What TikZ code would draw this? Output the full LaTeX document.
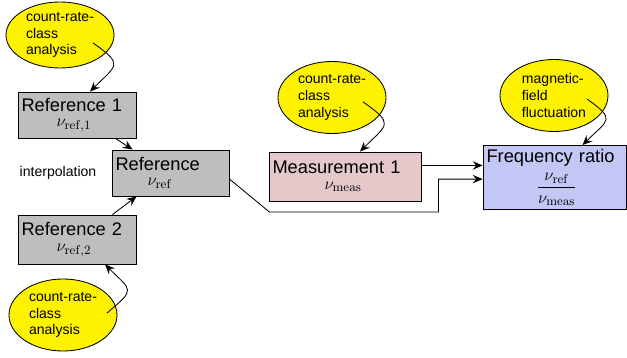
\documentclass[tikz,border=0pt]{standalone}
\usepackage{amsmath}
\usepackage[no-math]{fontspec}
\setmainfont{Liberation Sans}
\usepackage{tikz}
\usetikzlibrary{shapes.geometric,arrows.meta}

\definecolor{refgray}{RGB}{190,190,190}
\definecolor{measpink}{RGB}{228,200,202}
\definecolor{ratioblue}{RGB}{195,199,245}

\begin{document}
\begin{tikzpicture}[line width=0.6pt,
		>={Stealth[length=7pt,width=6pt,inset=2.5pt]},
		quantity/.style={draw, rectangle, inner sep=2.5pt, align=left, font=\fontsize{13}{11}\selectfont},
		effect/.style={draw, ellipse, fill=yellow, inner sep=0pt, align=left, minimum width=2.7cm, minimum height=1.8cm}]
		\useasboundingbox (0,0) rectangle (15.675,8.95);
		%
		\node[quantity, fill=refgray, text width=2.775cm, minimum height=1.15cm] (R1) at (1.925,6.075) {Reference 1\\\hspace*{0.875cm}$\nu_{\mathrm{ref},1}$};
		\node[quantity, fill=refgray, text width=2.75cm, minimum height=1.15cm] (R) at (4.2625,4.625) {Reference\\\hspace*{0.8cm}$\nu_{\mathrm{ref}}$};
		\node[quantity, fill=refgray, text width=2.775cm, minimum height=1.225cm] (R2) at (1.925,2.9625) {Reference 2\\\hspace*{0.875cm}$\nu_{\mathrm{ref},2}$};
		\node[quantity, fill=measpink, text width=3.625cm, minimum height=1.225cm] (M) at (8.625,4.5375) {Measurement 1\\\hspace*{1.3cm}$\nu_{\mathrm{meas}}$};
		\node[quantity, fill=ratioblue, text width=3.4cm, minimum height=1.525cm] (F) at (13.8625,4.5125) {Frequency ratio\\[4pt]\hspace*{1.25cm}$\dfrac{\nu_{\mathrm{ref}}}{\nu_{\mathrm{meas}}}$};
		\node (I) at (1.45,4.625) {interpolation};
		%
		\node[effect, minimum height=1.65cm] (C1) at (1.5,8.075) {count-rate-\\class\\analysis};
		\node[effect] (C2) at (8.3,6.5125) {count-rate-\\class\\analysis};
		\node[effect] (B) at (13.85,6.5625) {magnetic-\\field\\fluctuation};
		\node[effect] (C3) at (1.575,1.075) {count-rate-\\class\\analysis};
		%
		\coordinate (F1) at ([yshift=0.3cm]F.west);
		\coordinate (F2) at ([yshift=-0.04cm]F.west);
		%
		\path[->]
		([shift={(0.825,-0.2)}]C1.center) edge[out=-35,in=45,looseness=2] ([xshift=0.325cm]R1.north)
		([shift={(0.775,-0.11)}]C2.center) edge[out=-35,in=45,looseness=2] ([xshift=0.375cm]M.north)
		([shift={(0.825,-0.09)}]B.center) edge[out=-35,in=45,looseness=2] ([xshift=0.7cm]F.north)
		([shift={(1.1,0.05)}]C3.center) edge[out=40,in=-45,looseness=2] ([xshift=0.7cm]R2.south)
		([xshift=-0.525cm]R1.south east) edge ([xshift=0.525cm]R.north west)
		([xshift=-0.6cm]R2.north east) edge ([xshift=0.625cm]R.south west)
		(M.east |- F1) edge (F1);
		\draw[->] ([yshift=-0.15cm]R.east) -- ++(1,-0.825) -- ++(4.225,0) |- (F2);
\end{tikzpicture}
\end{document}
